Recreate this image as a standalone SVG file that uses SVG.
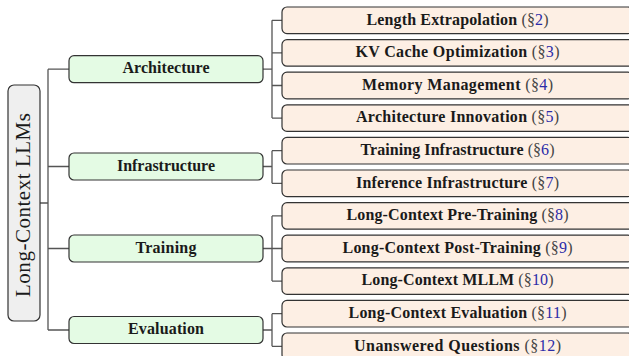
<svg xmlns="http://www.w3.org/2000/svg" width="629" height="356" viewBox="0 0 629 356">
<style>
.root{fill:#efefef;stroke:#333;stroke-width:1.2}
.l1{fill:#e4fbe4;stroke:#333;stroke-width:1.2}
.leaf{fill:#fdefe4;stroke:#333;stroke-width:1.2}
.ln{fill:none;stroke:#555;stroke-width:1.3}
text{font-family:"Liberation Serif","Times New Roman",serif;fill:#1a1a1a}
.t1{font-size:16px;font-weight:bold;text-anchor:middle}
.tl{font-size:16px;font-weight:bold;text-anchor:middle}
.p{font-weight:normal;fill:#444}
.n{font-weight:normal;fill:#2b2ba8}
.tr{font-size:21px;text-anchor:middle}
</style>
<rect width="629" height="356" fill="#fff"/>
<g id="connectors">
<path class="ln" d="M40 203H48M48 69.2V330M48 69.2H69M48 166.5H69M48 248.5H69M48 330H69"/>
<path class="ln" d="M263 69.2H272M272 20.3V118.1M272 20.3H282M272 52.9H282M272 85.5H282M272 118.1H282"/>
<path class="ln" d="M263 166.5H272M272 150.7V183.3M272 150.7H282M272 183.3H282"/>
<path class="ln" d="M263 248.5H282M272 215.9V281.1M272 215.9H282M272 281.1H282"/>
<path class="ln" d="M263 330H272M272 313.7V346.3M272 313.7H282M272 346.3H282"/>
</g>
<g id="root">
<rect class="root" x="8" y="85" width="32" height="236" rx="6"/>
<text class="tr" transform="translate(29.5 205) rotate(-90)" textLength="184">Long-Context LLMs</text>
</g>
<g id="architecture">
<rect class="l1" x="69" y="55.7" width="194" height="27" rx="5"/>
<text class="t1" x="166" y="73.4" textLength="87">Architecture</text>
</g>
<g id="infrastructure">
<rect class="l1" x="69" y="153" width="194" height="27" rx="5"/>
<text class="t1" x="166" y="170.7" textLength="98">Infrastructure</text>
</g>
<g id="training">
<rect class="l1" x="69" y="235" width="194" height="27" rx="5"/>
<text class="t1" x="166" y="252.7" textLength="61">Training</text>
</g>
<g id="evaluation">
<rect class="l1" x="69" y="316.5" width="194" height="27" rx="5"/>
<text class="t1" x="166" y="334.2" textLength="76">Evaluation</text>
</g>
<g id="leaf2">
<rect class="leaf" x="282" y="7" width="351" height="26.6" rx="5"/>
<text class="tl" x="457.5" y="24.5" textLength="182">Length Extrapolation <tspan class="p">(§</tspan><tspan class="n">2</tspan><tspan class="p">)</tspan></text>
</g>
<g id="leaf3">
<rect class="leaf" x="282" y="39.6" width="351" height="26.6" rx="5"/>
<text class="tl" x="457.5" y="57.1" textLength="204">KV Cache Optimization <tspan class="p">(§</tspan><tspan class="n">3</tspan><tspan class="p">)</tspan></text>
</g>
<g id="leaf4">
<rect class="leaf" x="282" y="72.2" width="351" height="26.6" rx="5"/>
<text class="tl" x="457.5" y="89.7" textLength="191">Memory Management <tspan class="p">(§</tspan><tspan class="n">4</tspan><tspan class="p">)</tspan></text>
</g>
<g id="leaf5">
<rect class="leaf" x="282" y="104.8" width="351" height="26.6" rx="5"/>
<text class="tl" x="457.5" y="122.3" textLength="203">Architecture Innovation <tspan class="p">(§</tspan><tspan class="n">5</tspan><tspan class="p">)</tspan></text>
</g>
<g id="leaf6">
<rect class="leaf" x="282" y="137.4" width="351" height="26.6" rx="5"/>
<text class="tl" x="457.5" y="154.9" textLength="194">Training Infrastructure <tspan class="p">(§</tspan><tspan class="n">6</tspan><tspan class="p">)</tspan></text>
</g>
<g id="leaf7">
<rect class="leaf" x="282" y="170" width="351" height="26.6" rx="5"/>
<text class="tl" x="457.5" y="187.5" textLength="203">Inference Infrastructure <tspan class="p">(§</tspan><tspan class="n">7</tspan><tspan class="p">)</tspan></text>
</g>
<g id="leaf8">
<rect class="leaf" x="282" y="202.6" width="351" height="26.6" rx="5"/>
<text class="tl" x="457.5" y="220.1" textLength="222">Long-Context Pre-Training <tspan class="p">(§</tspan><tspan class="n">8</tspan><tspan class="p">)</tspan></text>
</g>
<g id="leaf9">
<rect class="leaf" x="282" y="235.2" width="351" height="26.6" rx="5"/>
<text class="tl" x="457.5" y="252.7" textLength="230">Long-Context Post-Training <tspan class="p">(§</tspan><tspan class="n">9</tspan><tspan class="p">)</tspan></text>
</g>
<g id="leaf10">
<rect class="leaf" x="282" y="267.8" width="351" height="26.6" rx="5"/>
<text class="tl" x="457.5" y="285.3" textLength="192">Long-Context MLLM <tspan class="p">(§</tspan><tspan class="n">10</tspan><tspan class="p">)</tspan></text>
</g>
<g id="leaf11">
<rect class="leaf" x="282" y="300.4" width="351" height="26.6" rx="5"/>
<text class="tl" x="457.5" y="317.9" textLength="218">Long-Context Evaluation <tspan class="p">(§</tspan><tspan class="n">11</tspan><tspan class="p">)</tspan></text>
</g>
<g id="leaf12">
<rect class="leaf" x="282" y="333" width="351" height="26.6" rx="5"/>
<text class="tl" x="457.5" y="350.5" textLength="207">Unanswered Questions <tspan class="p">(§</tspan><tspan class="n">12</tspan><tspan class="p">)</tspan></text>
</g>
</svg>
